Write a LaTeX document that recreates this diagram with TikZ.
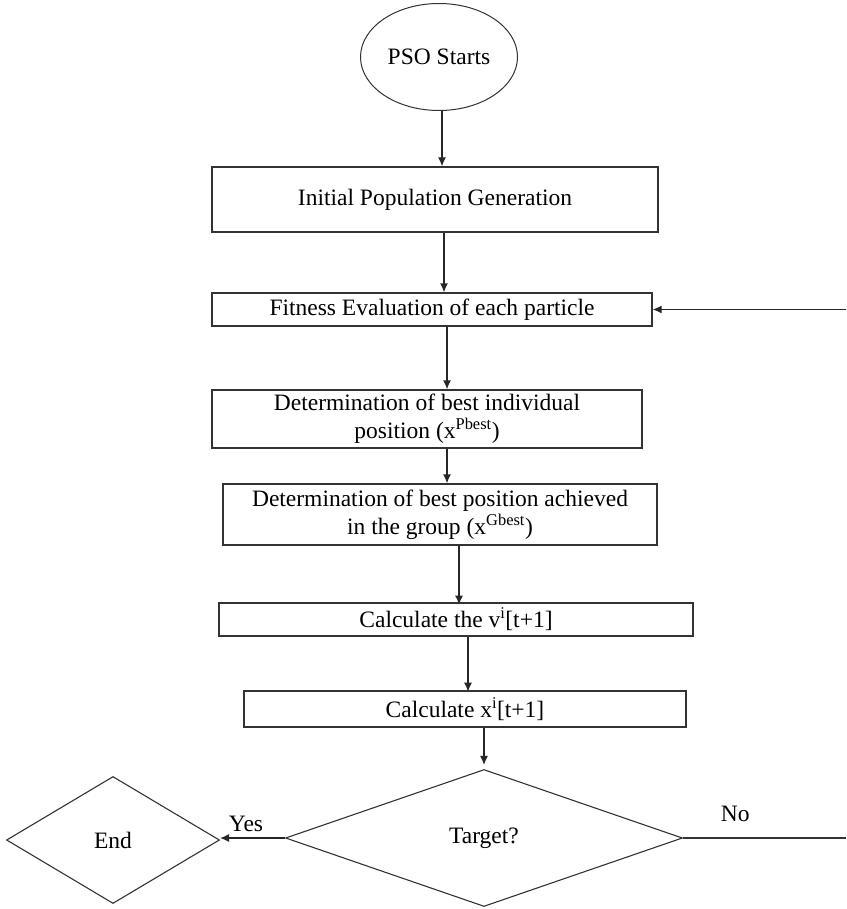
\documentclass[tikz,border=0pt]{standalone}
\usepackage{fontspec}
\setmainfont{Liberation Serif}
\usetikzlibrary{shapes.geometric,arrows.meta}

\tikzset{
  box/.style={draw=black!80, line width=1.3pt, rectangle, align=center, inner sep=2pt},
  flow/.style={draw=black!85, line width=1.3pt, -{Latex[length=9pt,width=8pt]}},
  decision/.style={draw=black!80, line width=1.1pt, diamond, inner sep=0pt},
}

\begin{document}
\begin{tikzpicture}[x=1pt, y=-1pt, font=\fontsize{23.5}{28}\selectfont]
\useasboundingbox (0,0) rectangle (846,909);

\node[draw=black!80, line width=1pt, ellipse, minimum width=157pt, minimum height=107pt] (start) at (439,57) {PSO Starts};
\node[box, minimum width=446pt, minimum height=65pt] (init) at (435,199.5) {Initial Population Generation};
\node[box, minimum width=440pt, minimum height=33pt] (fit) at (432,309.5) {Fitness Evaluation of each particle};
\node[box, minimum width=430pt, minimum height=58pt] (pbest) at (427,419) {Determination of best individual\\position (x\textsuperscript{Pbest})};
\node[box, minimum width=434pt, minimum height=61pt] (gbest) at (440,514.5) {Determination of best position achieved\\in the group (x\textsuperscript{Gbest})};
\node[box, minimum width=474pt, minimum height=33pt] (vel) at (456,619.5) {Calculate the v\textsuperscript{i}[t+1]};
\node[box, minimum width=442pt, minimum height=36pt] (pos) at (465,709) {Calculate x\textsuperscript{i}[t+1]};
\node[decision, minimum width=397pt, minimum height=137pt] (target) at (484,838) {Target?};
\node[decision, minimum width=213pt, minimum height=127pt] (end) at (113,840) {End};

\coordinate (noout) at (846,838);
\coordinate (backin) at (846,309.5);

\draw[flow] ([xshift=3pt]start.south) -- ([xshift=3pt]start.south |- init.north);
\draw[flow] ([xshift=9pt]init.south) -- ([xshift=9pt]init.south |- fit.north);
\draw[flow] ([xshift=15pt]fit.south) -- ([xshift=15pt]fit.south |- pbest.north);
\draw[flow] ([xshift=20pt]pbest.south) -- ([xshift=20pt]pbest.south |- gbest.north);
\draw[flow] (gbest.south -| vel.north) ++(3pt,0) -- ++(0,-59pt);
\draw[flow] (vel.south -| pos.north) ++(3pt,0) -- ++(0,-55pt);
\draw[flow] (pos.south -| target.north) -- ([yshift=4pt]target.north);
\draw[flow] (target.west) -- node[above, pos=0.6, yshift=2pt] {Yes} (target.west -| end.east);
\draw[draw=black!80, line width=1.3pt] (target.east) -- node[above, pos=0.32, yshift=12pt] {No} (target.east -| noout);
\draw[flow] (backin) -- (fit.east);
\end{tikzpicture}
\end{document}
